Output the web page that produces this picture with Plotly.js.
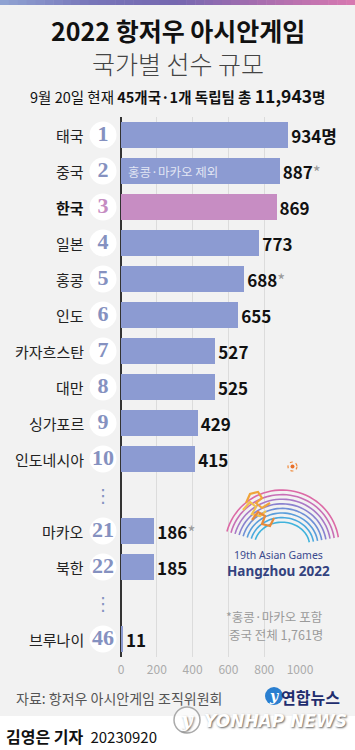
<!DOCTYPE html>
<html><head><meta charset="utf-8">
<script src="https://cdn.plot.ly/plotly-3.0.1.min.js"></script>
<style>html,body{margin:0;padding:0;background:#f2f2f2;}#chart{width:355px;height:750px;}</style>
</head><body><div id="chart"></div>
<script>
// ---- data ----
const countries = ['태국','중국','한국','일본','홍콩','인도','카자흐스탄','대만','싱가포르','인도네시아','마카오','북한','브루나이'];
const ranks = [1,2,3,4,5,6,7,8,9,10,21,22,46];
const athletes = [934,887,869,773,688,655,527,525,429,415,186,185,11];
const marks = ['','*','','','*','','','','','','*','',''];
const units = ['명','','','','','','','','','','','',''];
const highlight = '한국';
const xTicks = [0,200,400,600,800,1000];

// ---- geometry ----
const W=355,H=750, L=88, R=55, T=117, B=93;
const X0PX=121, X1000PX=300;           // pixel of value 0 and 1000
const PW=W-L-R, PH=H-T-B;
const UNIT=(X1000PX-X0PX)/1000;        // px per athlete
const XMIN=-(X0PX-L)/UNIT, XMAX=(W-R-X0PX)/UNIT;
const xp = px => (px-L)/PW;
const yp = py => (H-B-py)/PH;
const xd = px => (px-X0PX)/UNIT;

const FONT='Noto Sans CJK KR';
const BAR='#8c9bd2', HI='#c78dc3', RANKC='#8591c0', RANKHI='#c58cc2';

// slots (gap row when rank sequence jumps)
const slots=[], gapSlots=[]; let s=-1, prev=0;
ranks.forEach(r=>{ if(prev>0 && r-prev>1){ s++; gapSlots.push(s);} s++; slots.push(s); prev=r; });
const nSlots = s+1;

const isHi = countries.map(c=>c===highlight);
const barText = athletes.map((v,i)=> v.toLocaleString('en-US') + units[i] +
  (marks[i] ? "<span style='color:#9a9a9a;font-weight:normal'>*</span>" : ''));

const bars = {
  type:'bar', orientation:'h', y:slots, x:athletes, width:0.71,
  marker:{color:isHi.map(h=>h?HI:BAR), line:{width:0}},
  text:barText, textposition:'outside', cliponaxis:false, constraintext:'none',
  textfont:{family:FONT, size:17, color:'#111', weight:700},
  hoverinfo:'none'
};
const rankTrace = {
  type:'scatter', mode:'markers+text', y:slots, x:slots.map(()=>xd(103)),
  marker:{size:27, color:'#ffffff', line:{width:0}},
  text:ranks.map(String), textposition:'middle center', cliponaxis:false,
  textfont:{family:'Liberation Serif', size:22, weight:700, color:isHi.map(h=>h?RANKHI:RANKC)},
  hoverinfo:'none'
};

const ann = [];
const A = o => ann.push(Object.assign({showarrow:false, xanchor:'center', yanchor:'middle'}, o));
// country labels
countries.forEach((c,i)=>{
  A({x:0, xref:'x', y:slots[i], yref:'y', xanchor:'right', xshift:-35,
    text: isHi[i] ? '<b>'+c+'</b>' : c,
    font:{family:FONT, size:15, color: isHi[i] ? '#111' : '#222'}});
});
// gap dots
gapSlots.forEach(g=>{
  A({x:xd(103), xref:'x', y:g, yref:'y', text:'⋮',
    font:{family:'DejaVu Sans', size:18, color:'#8591c0'}});
});
// inside note on China bar
A({x:0, xref:'x', y:slots[countries.indexOf('중국')], yref:'y', xanchor:'left', xshift:5,
  text:'홍콩·마카오 제외', font:{family:FONT, size:12.5, color:'rgba(255,255,255,0.75)'}});
// titles
A({x:xp(W/2), xref:'paper', y:yp(30), yref:'paper',
  text:'<b>2022 항저우 아시안게임</b>', font:{family:FONT, size:25, color:'#111'}});
A({x:xp(W/2), xref:'paper', y:yp(63), yref:'paper',
  text:'국가별 선수 규모', font:{family:FONT, size:25, color:'#444', weight:300}});
A({x:xp(W/2), xref:'paper', y:yp(96), yref:'paper',
  text:"9월 20일 현재 <b>45개국·1개 독립팀 총 <span style='font-size:17.5px'>11,943</span>명</b>",
  font:{family:FONT, size:14.5, color:'#111'}});
// note
A({x:xp(274), xref:'paper', y:yp(616), yref:'paper',
  text:'*홍콩·마카오 포함', font:{family:FONT, size:12.5, color:'#9a9a9a'}});
A({x:xp(276), xref:'paper', y:yp(634), yref:'paper',
  text:'중국 전체 1,761명', font:{family:FONT, size:12.5, color:'#9a9a9a'}});
// logo text
A({x:xp(278), xref:'paper', y:yp(555), yref:'paper',
  text:'19th Asian Games', font:{family:'Noto Sans', size:10.5, color:'#3b4a8e'}});
A({x:xp(278), xref:'paper', y:yp(571), yref:'paper',
  text:'<b>Hangzhou 2022</b>', font:{family:'Noto Sans', size:13.5, color:'#34437f'}});
// footer
A({x:xp(14), xref:'paper', xanchor:'left', y:yp(698), yref:'paper',
  text:'자료: 항저우 아시안게임 조직위원회', font:{family:FONT, size:14, color:'#555'}});
A({x:xp(342), xref:'paper', xanchor:'right', y:yp(697), yref:'paper',
  text:'<b>연합뉴스</b>', font:{family:FONT, size:16, color:'#1f2d6e'}});
A({x:xp(274), xref:'paper', y:yp(696), yref:'paper',
  text:'<b><i>y</i></b>', font:{family:'DejaVu Serif', size:14, color:'#ffffff'}});
A({x:xp(275), xref:'paper', y:yp(721), yref:'paper',
  text:'<b><i>YONHAP NEWS</i></b>', font:{family:'DejaVu Sans', size:17, color:'#ffffff', shadow:'1px 1px 2px #666'}});
A({x:xp(187), xref:'paper', y:yp(720), yref:'paper',
  text:'<b><i>y</i></b>', font:{family:'DejaVu Serif', size:20, color:'#ffffff', shadow:'1px 1px 2px #666'}});
A({x:xp(4), xref:'paper', xanchor:'left', y:yp(736), yref:'paper',
  text:"<b>김영은 기자</b>  <span style='font-size:15px'>20230920</span>", font:{family:FONT, size:16, color:'#111'}});

// shapes
const shapes = [];
shapes.push({type:'rect', xref:'paper', yref:'paper', x0:xp(0), x1:xp(W), y0:yp(716), y1:yp(H), fillcolor:'#ffffff', line:{width:0}, layer:'below'});
const stops=[[143,162,210],[120,118,185],[118,104,176],[170,110,175],[214,120,176]];
const N=40;
for(let i=0;i<N;i++){
  const t=i/(N-1)*(stops.length-1), k=Math.min(Math.floor(t),stops.length-2), f=t-k;
  const c=stops[k].map((v,j)=>Math.round(v+(stops[k+1][j]-v)*f));
  shapes.push({type:'rect', xref:'paper', yref:'paper', x0:xp(i*W/N), x1:xp((i+1)*W/N+0.5), y0:yp(0), y1:yp(5),
    fillcolor:`rgb(${c})`, line:{width:0}});
}
const arcCols=['#dc6aa6','#c86fb6','#a978c6','#8a82cf','#6f8fd6','#5a9ddb','#4aa9de','#40b3dc'];
arcCols.forEach((col,i)=>{
  const cx=282, cy=546, rx=57-i*4.2, ry=56-i*4.6;
  let p='';
  for(let a=165;a>=8;a-=4){
    const r=a*Math.PI/180;
    const X=cx+rx*Math.cos(r), Y=cy-ry*Math.sin(r);
    p += (p?' L ':'M ') + xp(X).toFixed(4)+','+yp(Y).toFixed(4);
  }
  shapes.push({type:'path', xref:'paper', yref:'paper', path:p, line:{color:col, width:1.6}});
});
const swirl=[['#f0a43a',[[246,503],[250,494],[258,492],[262,498],[256,503],[262,508],[270,503]]],
             ['#f2c14e',[[243,510],[250,502],[256,507],[252,514],[260,516],[266,511]]],
             ['#e98a3a',[[252,520],[258,512],[265,516],[262,524],[270,526],[274,518]]]];
swirl.forEach(([col,pts])=>{
  const p=pts.map((q,j)=>(j?'L ':'M ')+xp(q[0]).toFixed(4)+','+yp(q[1]).toFixed(4)).join(' ');
  shapes.push({type:'path', xref:'paper', yref:'paper', path:p, line:{color:col, width:2.2}});
});
shapes.push({type:'circle', xref:'paper', yref:'paper', x0:xp(288), x1:xp(297), y0:yp(462), y1:yp(471), fillcolor:'rgba(0,0,0,0)', line:{color:'#f08a3a', width:1.2, dash:'dot'}});
shapes.push({type:'circle', xref:'paper', yref:'paper', x0:xp(290.5), x1:xp(294.5), y0:yp(464.5), y1:yp(468.5), fillcolor:'#e8702a', line:{width:0}});
shapes.push({type:'circle', xref:'paper', yref:'paper', x0:xp(265), x1:xp(283), y0:yp(687), y1:yp(705), fillcolor:'#2a7fd0', line:{width:0}});
shapes.push({type:'circle', xref:'paper', yref:'paper', x0:xp(174), x1:xp(200), y0:yp(707), y1:yp(733), fillcolor:'rgba(255,255,255,0.6)', line:{color:'#aaa', width:1.5}});

const layout = {
  width:W, height:H, margin:{l:L, r:R, t:T, b:B},
  paper_bgcolor:'#f2f2f2', plot_bgcolor:'rgba(0,0,0,0)',
  showlegend:false, bargap:0,
  xaxis:{range:[XMIN,XMAX], tickvals:xTicks, ticktext:xTicks.map(String), showgrid:true, gridcolor:'#dcdcdc', gridwidth:1,
    zeroline:true, zerolinecolor:'#333', zerolinewidth:1.5, showline:false, ticks:'', fixedrange:true,
    tickfont:{family:FONT, size:12, color:'#ababab'}, ticklabelstandoff:4},
  yaxis:{range:[nSlots-0.5,-0.5], showticklabels:false, showgrid:false, zeroline:false, ticks:'', fixedrange:true},
  annotations:ann, shapes:shapes
};
Plotly.newPlot('chart',[bars,rankTrace],layout,{displayModeBar:false, staticPlot:true});
</script></body></html>
